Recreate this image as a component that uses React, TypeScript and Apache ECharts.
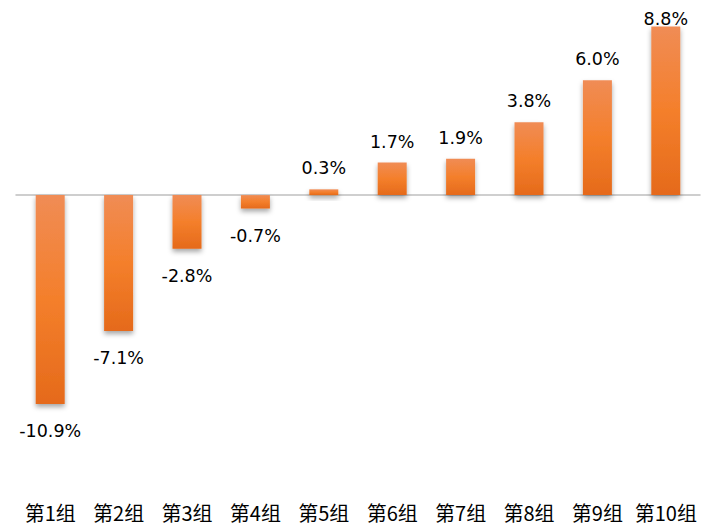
import React, { useEffect, useRef } from "react";
import * as echarts from "echarts";

const categories = ["第1组", "第2组", "第3组", "第4组", "第5组", "第6组", "第7组", "第8组", "第9组", "第10组"];
const values = [-10.9, -7.1, -2.8, -0.7, 0.3, 1.7, 1.9, 3.8, 6.0, 8.8];

export default function App() {
  const ref = useRef<HTMLDivElement>(null);
  useEffect(() => {
    if (!ref.current) return;
    const chart = echarts.init(ref.current, undefined, { renderer: "svg" });
    const gradient = new echarts.graphic.LinearGradient(0, 0, 0, 1, [
      { offset: 0, color: "#F08C55" },
      { offset: 0.5, color: "#F47F2B" },
      { offset: 1, color: "#E56A1B" },
    ]);
    chart.setOption({
      animation: false,
      grid: { left: 16, right: 8, top: 3.5, bottom: 106, containLabel: false },
      xAxis: [
        {
          type: "category",
          data: categories,
          axisLine: { onZero: true, lineStyle: { color: "#BFBFBF", width: 1.5 } },
          axisTick: { show: false },
          axisLabel: { show: false },
          z: 1,
        },
        {
          type: "category",
          data: categories,
          position: "bottom",
          axisLine: { show: false },
          axisTick: { show: false },
          axisLabel: {
            show: true,
            interval: 0,
            margin: 77,
            fontSize: 20,
            color: "#000",
            fontFamily: "Noto Sans CJK SC",
          },
        },
      ],
      yAxis: {
        type: "value",
        min: -12,
        max: 10,
        show: false,
        splitLine: { show: false },
      },
      series: [
        {
          type: "bar",
          xAxisIndex: 0,
          barWidth: 29,
          z: 3,
          data: values.map((v, i) => ({
            value: v,
            label: {
              position: v < 0 ? "bottom" : "top",
              distance: i === values.length - 1 ? -2 : v < 0 ? 18 : 12,
            },
          })),
          itemStyle: {
            color: gradient,
            shadowColor: "rgba(0,0,0,0.35)",
            shadowBlur: 5,
            shadowOffsetY: 3,
          },
          label: {
            show: true,
            fontSize: 17.5,
            color: "#000",
            fontFamily: "DejaVu Sans",
            formatter: (p: any) => p.value.toFixed(1) + "%",
          },
        },
      ],
    });
    return () => chart.dispose();
  }, []);
  return (
    <div
      ref={ref}
      style={{ position: "absolute", left: 0, top: 0, width: 708, height: 531 }}
    />
  );
}
